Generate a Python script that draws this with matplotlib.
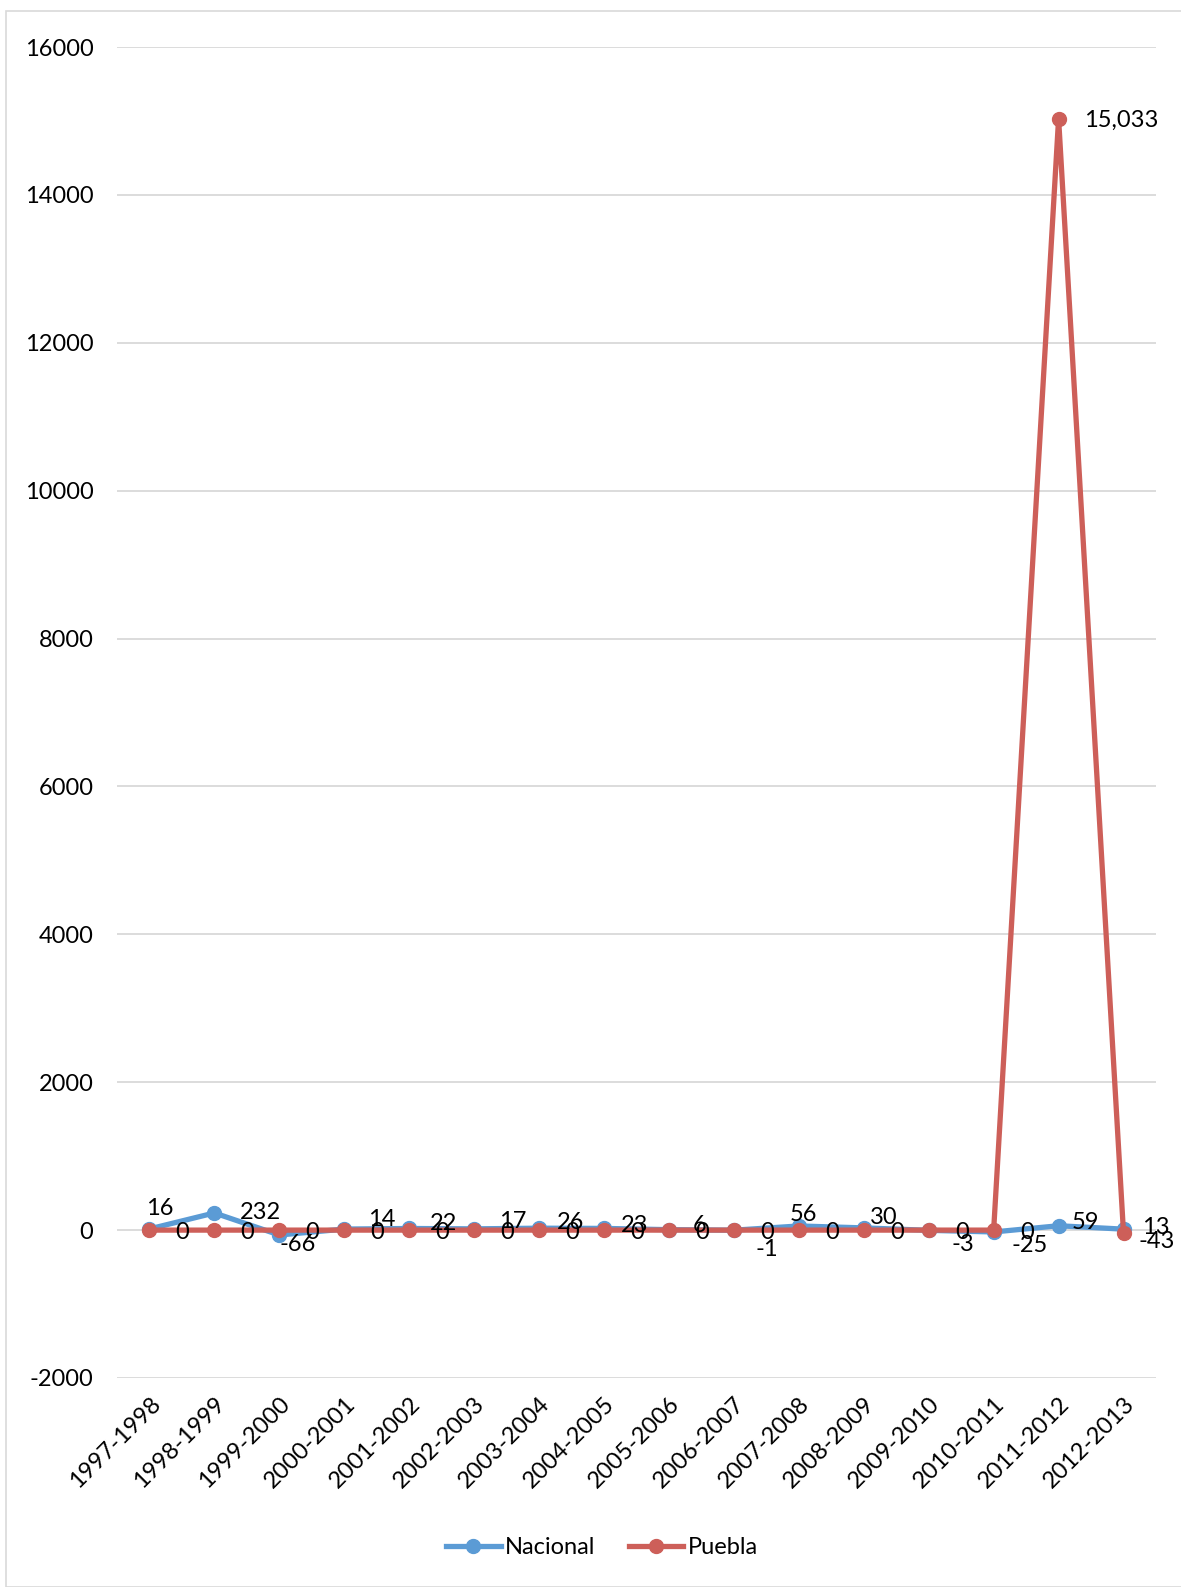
import matplotlib
matplotlib.use("Agg")
import matplotlib.pyplot as plt
from matplotlib.patches import Rectangle

plt.rcParams['font.family'] = ['Lato', 'DejaVu Sans']

# school years and yearly change for each series
periodos = ['1997-1998', '1998-1999', '1999-2000', '2000-2001', '2001-2002',
            '2002-2003', '2003-2004', '2004-2005', '2005-2006', '2006-2007',
            '2007-2008', '2008-2009', '2009-2010', '2010-2011', '2011-2012',
            '2012-2013']
nacional = [16, 232, -66, 14, 22, 17, 26, 23, 6, -1, 56, 30, -3, -25, 59, 13]
puebla = [0, 0, 0, 0, 0, 0, 0, 0, 0, 0, 0, 0, 0, 0, 15033, -43]
yticks = [-2000, 0, 2000, 4000, 6000, 8000, 10000, 12000, 14000, 16000]

azul = '#5B9BD5'
rojo = '#CD5F59'
W, H = 1181, 1587

fig = plt.figure(figsize=(11.81, 15.87), dpi=100)
ax = fig.add_axes([117 / W, 1 - 1378 / H, 1039 / W, 1331 / H])

# outer chart border
fig.patches.append(Rectangle((6 / W, 0), 1.0, 1 - 11 / H, transform=fig.transFigure,
                             fill=False, edgecolor='#D9D9D9', linewidth=1.2))

x = list(range(len(periodos)))
ax.plot(x, nacional, color=azul, lw=3.8, marker='o', ms=10, label='Nacional', zorder=3)
ax.plot(x, puebla, color=rojo, lw=3.8, marker='o', ms=10, label='Puebla', zorder=4)

# data labels in pixel offsets from each point
off_nac = [(10, 20), (46, 0), (18, -10), (37, 10), (34, 5), (39, 7), (31, 6), (31, 3),
           (31, 4), (33, -19), (5, 11), (20, 10), (34, -14), (36, -14), (27, 3), (32, 2)]
for i, v in enumerate(nacional):
    dx, dy = off_nac[i]
    ax.annotate(f'{v:,}', (i, v), xytext=(dx, dy), textcoords='offset pixels',
                ha='center', va='center', fontsize=17, color='black', zorder=5)
for i, v in enumerate(puebla):
    txt = f'{v:,}'
    dx = 33 if len(txt) < 4 else 63
    dy = -2 if v >= 0 else -8
    ax.annotate(txt, (i, v), xytext=(dx, dy), textcoords='offset pixels',
                ha='center', va='center', fontsize=17, color='black', zorder=5)

ax.set_xlim(-0.5, len(periodos) - 0.5)
ax.set_ylim(-2000, 16000)
ax.set_yticks(yticks)
ax.set_yticklabels([str(t) for t in yticks], fontsize=17)
ax.set_xticks(x)
ax.set_xticklabels(periodos, rotation=45, ha='right', rotation_mode='anchor', fontsize=17)
ax.tick_params(axis='both', length=0)
ax.tick_params(axis='y', pad=17)
ax.tick_params(axis='x', pad=11)
ax.grid(axis='y', color='#D9D9D9', lw=1.3)
ax.set_axisbelow(True)
for s in ax.spines.values():
    s.set_visible(False)

fig.legend(loc='center', bbox_to_anchor=(602 / W, 1 - 1548 / H), ncol=2,
           frameon=False, fontsize=17, handlelength=2.3, columnspacing=1.4, handletextpad=0.2)

fig.savefig('out.png', dpi=100)
